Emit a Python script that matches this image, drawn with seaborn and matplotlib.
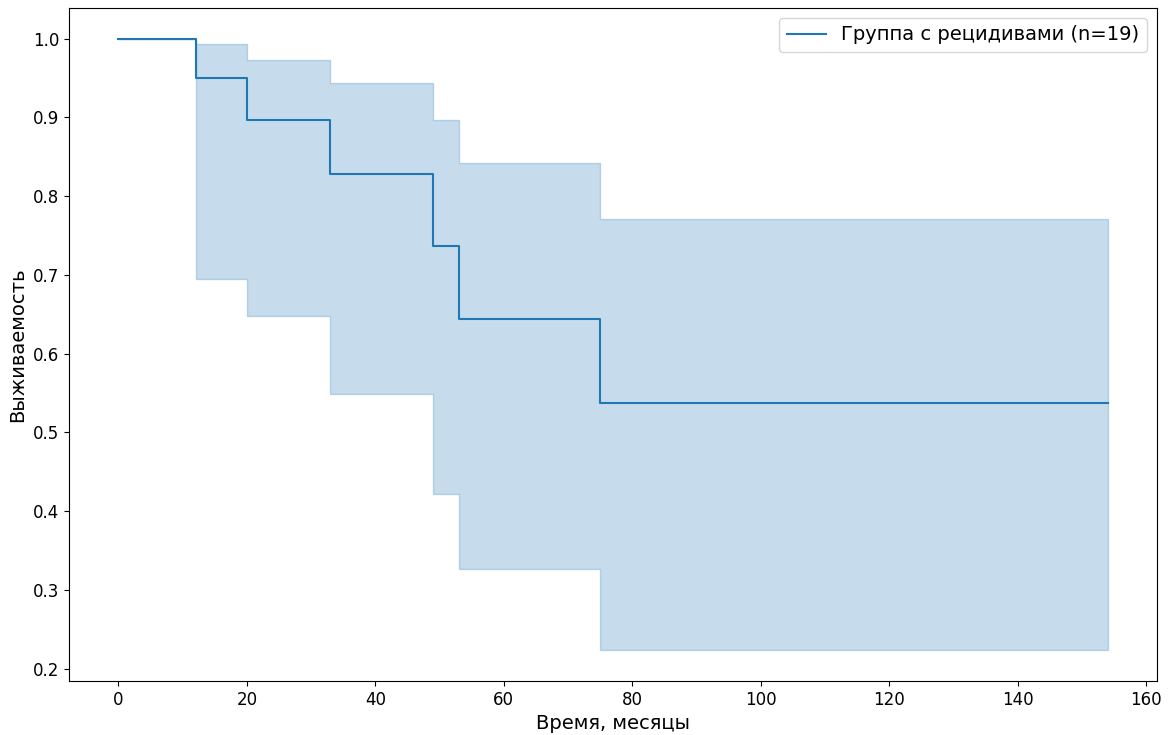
import matplotlib
matplotlib.use("Agg")
import matplotlib.pyplot as plt
import seaborn as sns
import pandas as pd

# Kaplan–Meier estimate for the relapse group
times = [0, 12, 20, 33, 49, 53, 75, 154]
survival = [1.0, 0.950, 0.897, 0.828, 0.737, 0.644, 0.537, 0.537]
ci_upper = [1.0, 0.993, 0.973, 0.943, 0.897, 0.842, 0.771, 0.771]
ci_lower = [1.0, 0.695, 0.648, 0.549, 0.422, 0.326, 0.223, 0.223]
label = "Группа с рецидивами (n=19)"

df = pd.DataFrame({"t": times, "s": survival})

plt.rcParams["font.family"] = ["DejaVu Sans"]
fig, ax = plt.subplots(figsize=(11.72, 7.35), dpi=100)
fig.subplots_adjust(left=69/1172, right=1157/1172, top=1-8/735, bottom=1-681/735)

color = "#1f77b4"
ax.fill_between(times, ci_lower, ci_upper, step="post", color=color, alpha=0.25, linewidth=1)
sns.lineplot(data=df, x="t", y="s", drawstyle="steps-post", color=color, linewidth=1.5,
             label=label, ax=ax, estimator=None)

ax.set_xlabel("Время, месяцы", fontsize=14)
ax.set_ylabel("Выживаемость", fontsize=14)
ax.tick_params(labelsize=12)
ax.set_xticks(range(0, 161, 20))
ax.legend(loc="upper right", fontsize=14)

fig.savefig("out.png", dpi=100)
